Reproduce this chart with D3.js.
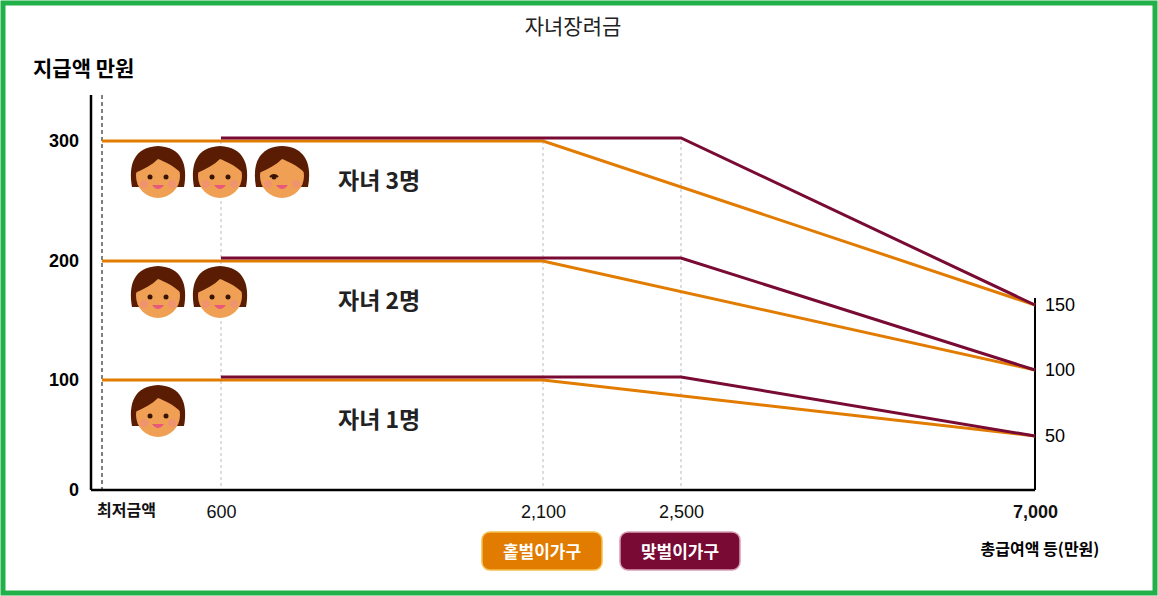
<!DOCTYPE html>
<html><head><meta charset="utf-8">
<script src="https://cdn.jsdelivr.net/npm/d3@7"></script>
<style>
body{margin:0;background:#fff;font-family:"Noto Sans CJK KR","Noto Sans",sans-serif;}
</style></head>
<body><div id="chart"></div>
<script>
// data
const xTicks = [0, 600, 2100, 2500, 7000];
const xTickLabels = ['최저금액', '600', '2,100', '2,500', '7,000'];
const leftTicks = [0, 100, 200, 300];
const rightTicks = [50, 100, 150];
const children = ['자녀 1명', '자녀 2명', '자녀 3명'];
const maxAmount = [100, 200, 300];
const endAmount = [50, 100, 150];
// 홑벌이: flat from 최저금액 to 2,100 ; 맞벌이: flat from 600 to 2,500
const single = {name: '홑벌이가구', start: 0, flatEnd: 2100, color: '#e27c00'};
const dual = {name: '맞벌이가구', start: 600, flatEnd: 2500, color: '#780a34'};

const W = 1158, H = 596;
const svg = d3.select('#chart').append('svg').attr('width', W).attr('height', H);

svg.append('rect').attr('x', 3).attr('y', 3).attr('width', W - 6).attr('height', H - 6)
    .attr('fill', '#fff').attr('stroke', '#22b04a').attr('stroke-width', 5);

svg.append('text').attr('x', W / 2 - 6).attr('y', 34).attr('text-anchor', 'middle')
    .attr('font-size', 21).attr('fill', '#222').text('자녀장려금');

// scales (chart is not drawn to scale, so piecewise)
const x = d3.scaleLinear().domain(xTicks).range([102, 221, 543, 681, 1035]);
const yL = d3.scaleLinear().domain([0, 100, 200, 300]).range([490, 380, 261, 141]);
const yR = d3.scaleLinear().domain([0, 50, 100, 150]).range([490, 436, 370, 305]);

// gridlines
svg.append('g').selectAll('line').data(xTicks.slice(1, 4)).join('line')
    .attr('x1', d => x(d)).attr('x2', d => x(d)).attr('y1', 141).attr('y2', 490)
    .attr('stroke', '#bbb').attr('stroke-dasharray', '3,3');
svg.append('line').attr('x1', x(0)).attr('x2', x(0)).attr('y1', 95).attr('y2', 490)
    .attr('stroke', '#555').attr('stroke-width', 1.5).attr('stroke-dasharray', '4,3');

// axes
const axisL = svg.append('g').attr('transform', 'translate(91,0)')
    .call(d3.axisLeft(yL).tickValues(leftTicks).tickSize(0).tickPadding(12));
axisL.select('.domain').attr('d', 'M0,95V490').attr('stroke-width', 2.5);
axisL.selectAll('text').attr('font-size', 18).attr('font-weight', 'bold').attr('font-family', 'Liberation Sans');

const axisR = svg.append('g').attr('transform', `translate(${x(7000)},0)`)
    .call(d3.axisRight(yR).tickValues(rightTicks).tickSize(0).tickPadding(10));
axisR.select('.domain').attr('d', 'M0,298V490').attr('stroke-width', 2);
axisR.selectAll('text').attr('font-size', 18).attr('font-family', 'Liberation Sans Narrow, Liberation Sans');

const axisB = svg.append('g').attr('transform', 'translate(0,490)')
    .call(d3.axisBottom(x).tickValues(xTicks).tickSize(0).tickPadding(15)
        .tickFormat((d, i) => xTickLabels[i]));
axisB.select('.domain').attr('d', 'M91,0H1035').attr('stroke-width', 2.5);
axisB.selectAll('text').attr('font-size', 18).attr('fill', '#111')
    .attr('font-family', 'Liberation Sans Narrow, Liberation Sans')
    .attr('font-weight', (d, i) => i === 0 || i === 4 ? 'bold' : 'normal')
    .attr('dx', (d, i) => i === 0 ? 24 : 0);
axisB.selectAll('text').filter((d, i) => i === 0).attr('font-size', 16)
    .attr('font-family', 'Noto Sans CJK KR');

svg.append('text').attr('x', 33).attr('y', 76).attr('font-size', 21).attr('font-weight', 'bold').text('지급액 만원');
svg.append('text').attr('x', 1040).attr('y', 555).attr('text-anchor', 'middle')
    .attr('font-size', 16).attr('font-weight', 'bold').text('총급여액 등(만원)');

// lines
const line = d3.line().x(d => x(d[0])).y(d => d[1]);
[single, dual].forEach((s, si) => {
    const off = si === 1 ? -3 : 0;
    maxAmount.forEach((m, i) => {
        const pts = [[s.start, yL(m) + off], [s.flatEnd, yL(m) + off], [7000, yR(endAmount[i])]];
        svg.append('path').attr('d', line(pts)).attr('fill', 'none')
            .attr('stroke', s.color).attr('stroke-width', 3);
    });
});

// faces
function face(cx, cy, wink) {
    const g = svg.append('g').attr('transform', `translate(${cx},${cy})`);
    g.append('path').attr('d', 'M-26,14 C-30,-8 -24,-26 0,-27 C24,-26 30,-8 26,14 Z').attr('fill', '#5a1c02');
    g.append('circle').attr('r', 22).attr('cy', 3).attr('fill', '#f0a055');
    g.append('path').attr('d', 'M-23,0 C-22,-20 -8,-24 0,-23 C10,-24 22,-20 23,0 C15,-8 5,-12 0,-14 C-6,-8 -14,-4 -23,0 Z').attr('fill', '#5a1c02');
    g.append('circle').attr('cx', -8).attr('cy', 4).attr('r', 2.5).attr('fill', '#3a1500');
    if (wink) g.append('path').attr('d', 'M-12,4 Q-8,0 -4,4').attr('stroke', '#3a1500').attr('stroke-width', 2).attr('fill', 'none');
    else g.append('circle').attr('cx', 8).attr('cy', 4).attr('r', 2.5).attr('fill', '#3a1500');
    g.append('circle').attr('cx', -14).attr('cy', 11).attr('r', 4).attr('fill', '#f08a80').attr('opacity', 0.6);
    g.append('circle').attr('cx', 14).attr('cy', 11).attr('r', 4).attr('fill', '#f08a80').attr('opacity', 0.6);
    g.append('path').attr('d', 'M-6,12 Q0,20 6,12 Z').attr('fill', '#e8587a');
}
children.forEach((c, i) => {
    const top = yL(maxAmount[i]);
    for (let k = 0; k <= i; k++) face(158 + k * 62, top + 32, k === 2);
    svg.append('text').attr('x', 338).attr('y', top + 48).attr('font-size', 23)
        .attr('font-weight', 'bold').attr('fill', '#222').text(c);
});

// legend badges
[single, dual].forEach((s, i) => {
    const cx = x(s.flatEnd);
    svg.append('rect').attr('x', cx - 61).attr('y', 532).attr('width', 120).attr('height', 38).attr('rx', 8)
        .attr('fill', s.color).attr('stroke', i === 0 ? '#f5c04a' : '#d7a0b5').attr('stroke-width', 1.5);
    svg.append('text').attr('x', cx - 1).attr('y', 558).attr('text-anchor', 'middle')
        .attr('font-size', 17).attr('fill', '#fff').attr('font-weight', 'bold').text(s.name);
});
</script></body></html>
